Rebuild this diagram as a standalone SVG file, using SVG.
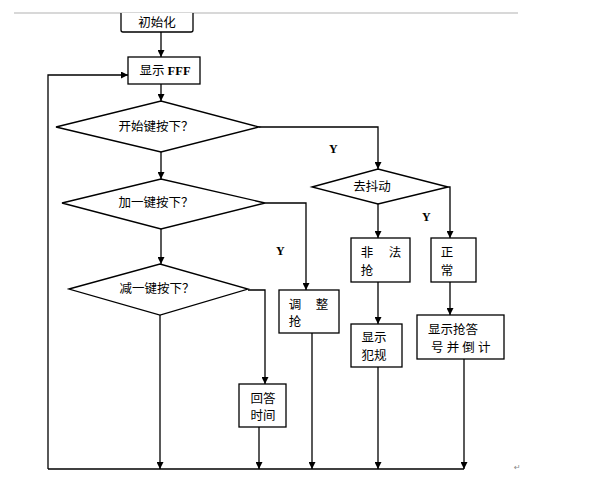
<svg xmlns="http://www.w3.org/2000/svg" width="596" height="492" viewBox="0 0 596 492">
<defs>
<marker id="ah" viewBox="0 0 10 10" refX="10" refY="5" markerWidth="7" markerHeight="7" markerUnits="userSpaceOnUse" orient="auto">
<path d="M0,0 L10,5 L0,10 z" fill="#000"/>
</marker>
<style>
.s{fill:#fff;stroke:#000;stroke-width:1.3}
.c{fill:none;stroke:#000;stroke-width:1.3}
.a{marker-end:url(#ah)}
.t{font-family:"Liberation Serif","Noto Sans CJK SC",serif;font-size:12.5px;fill:#000}
.m{text-anchor:middle}
.y{font-family:"Liberation Serif",serif;font-size:12px;font-weight:bold;fill:#000}
</style>
</defs>
<rect width="596" height="492" fill="#fff"/>
<line x1="14" y1="13" x2="518" y2="13" stroke="#d8d8d8" stroke-width="2"/>

<g id="connectors">
<line class="c a" x1="161" y1="32" x2="161" y2="57"/>
<line class="c a" x1="161" y1="84" x2="161" y2="101"/>
<polyline class="c a" points="48,469 48,75 128,75"/>
<polyline class="c a" points="259,127 378,127 378,169"/>
<line class="c a" x1="161" y1="152" x2="161" y2="179"/>
<line class="c a" x1="161" y1="229" x2="161" y2="264"/>
<polyline class="c a" points="265,203 306,203 306,290"/>
<polyline class="c a" points="248,290 265,290 265,384"/>
<line class="c a" x1="378" y1="204" x2="378" y2="238"/>
<polyline class="c a" points="448,187 450,187 450,238"/>
<line class="c a" x1="378" y1="282" x2="378" y2="324"/>
<line class="c a" x1="450" y1="282" x2="450" y2="315"/>
<line class="c a" x1="160" y1="315" x2="160" y2="469"/>
<line class="c a" x1="259" y1="427" x2="259" y2="469"/>
<line class="c a" x1="312" y1="333" x2="312" y2="469"/>
<line class="c a" x1="378" y1="367" x2="378" y2="469"/>
<line class="c a" x1="464" y1="359" x2="464" y2="469"/>
<line class="c" x1="48" y1="469" x2="464" y2="469"/>
<text class="y" x="329" y="153">Y</text>
<text class="y" x="276" y="255">Y</text>
<text class="y" x="422" y="221">Y</text>
</g>

<g id="init">
<path class="s" d="M121,13 L121,30 Q121,32 123,32 L191,32 Q193,32 193,30 L193,13"/>
<text class="t m" x="157" y="27">初始化</text>
</g>
<g id="showFFF">
<rect class="s" x="128" y="57" width="72" height="27"/>
<text class="t m" x="165" y="75">显示 <tspan font-weight="bold">FFF</tspan></text>
</g>
<g id="start">
<polygon class="s" points="56,127 161,101 259,127 161,152"/>
<text class="t m" x="156" y="131">开始键按下？</text>
</g>
<g id="plus">
<polygon class="s" points="62,203 161,179 265,203 161,229"/>
<text class="t m" x="156" y="207">加一键按下？</text>
</g>
<g id="minus">
<polygon class="s" points="69,289 160,264 248,289 160,315"/>
<text class="t m" x="157" y="293">减一键按下？</text>
</g>
<g id="debounce">
<polygon class="s" points="312,187 378,169 448,187 378,204"/>
<text class="t m" x="372" y="191" font-size="12">去抖动</text>
</g>
<g id="illegal">
<rect class="s" x="351" y="238" width="59" height="44"/>
<text class="t m" x="367" y="257">非</text>
<text class="t m" x="395" y="257">法</text>
<text class="t m" x="367" y="275">抢</text>
</g>
<g id="normal">
<rect class="s" x="431" y="238" width="45" height="44"/>
<text class="t m" x="447" y="257">正</text>
<text class="t m" x="447" y="275">常</text>
</g>
<g id="foul">
<rect class="s" x="351" y="324" width="51" height="43"/>
<text class="t m" x="374" y="342">显示</text>
<text class="t m" x="374" y="360">犯规</text>
</g>
<g id="showNum">
<rect class="s" x="417" y="315" width="87" height="44"/>
<text class="t" x="428" y="334">显示抢答</text>
<text class="t" x="431" y="352">号 并 倒 计</text>
</g>
<g id="adjust">
<rect class="s" x="279" y="290" width="60" height="43"/>
<text class="t m" x="295" y="309">调</text>
<text class="t m" x="322" y="309">整</text>
<text class="t m" x="295" y="326">抢</text>
</g>
<g id="answer">
<rect class="s" x="239" y="384" width="47" height="43"/>
<text class="t m" x="263" y="403">回答</text>
<text class="t m" x="263" y="420">时间</text>
</g>
<text x="514" y="470" font-family="DejaVu Sans,sans-serif" font-size="8" fill="#888">↵</text>
</svg>
